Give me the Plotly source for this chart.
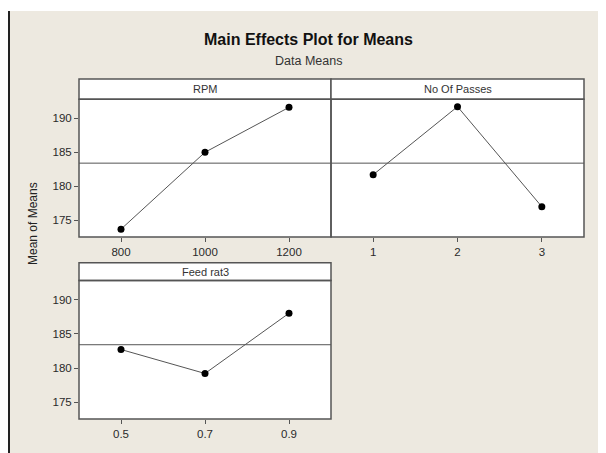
import plotly.graph_objects as go

# ---- data ----
rpm_levels = [800, 1000, 1200]
rpm_means = [173.7, 185.0, 191.6]
passes_levels = [1, 2, 3]
passes_means = [181.7, 191.7, 177.0]
feed_levels = [0.5, 0.7, 0.9]
feed_means = [182.7, 179.2, 188.0]
feed_ticklabels = ["0.5", "0.7", "0.9"]
factor_names = ["RPM", "No Of Passes", "Feed rat3"]
y_ticks = [175, 180, 185, 190]

all_means = rpm_means + passes_means + feed_means
grand_mean = sum(all_means) / len(all_means)

# page body has an 8px margin: figure origin sits at window (8, 8)
OFF = 8
W, H = 606 - OFF, 453 - OFF
BG = "#EDE9E0"
FRAME = "#555555"
FONT = "Liberation Sans, Arial, sans-serif"
TXT = "#333333"

def px_x(x):
    return (x - OFF) / W

def px_y(y):
    return 1 - (y - OFF) / H

# panel pixel geometry (data areas, window coordinates)
panels = {
    "A": dict(x0=79, x1=331, y0=99.3, y1=237, strip=79),
    "B": dict(x0=331, x1=584, y0=99.3, y1=237, strip=79),
    "C": dict(x0=79, x1=331, y0=280.5, y1=419, strip=262.7),
}

fig = go.Figure()

series = [
    ("A", "x", "y", rpm_levels, rpm_means),
    ("B", "x2", "y2", passes_levels, passes_means),
    ("C", "x3", "y3", feed_levels, feed_means),
]
for key, xa, ya, xs, ys in series:
    fig.add_trace(go.Scatter(
        x=xs, y=ys, xaxis=xa, yaxis=ya, mode="lines+markers",
        line=dict(color="#555555", width=1),
        marker=dict(color="black", size=7),
        showlegend=False, hoverinfo="skip",
    ))

yrange = [172.55, 192.78]
axis_common = dict(showgrid=False, zeroline=False, showline=False,
                   ticks="outside", ticklen=4,
                   tickcolor=FRAME, tickwidth=1,
                   tickfont=dict(family=FONT, size=11.5, color="#2a2a2a"))

layout = dict(
    width=W, height=H,
    margin=dict(l=0, r=0, t=0, b=0),
    paper_bgcolor=BG, plot_bgcolor="white",
    showlegend=False,
)

def dom(p):
    return [px_x(p["x0"]), px_x(p["x1"])], [px_y(p["y1"]), px_y(p["y0"])]

dA = dom(panels["A"]); dB = dom(panels["B"]); dC = dom(panels["C"])
layout["xaxis"] = dict(axis_common, domain=dA[0], anchor="y", range=[700, 1300],
                       tickvals=rpm_levels, ticktext=[str(v) for v in rpm_levels])
layout["yaxis"] = dict(axis_common, domain=dA[1], anchor="x", range=yrange, tickvals=y_ticks)
layout["xaxis2"] = dict(axis_common, domain=dB[0], anchor="y2", range=[0.5, 3.5],
                        tickvals=passes_levels, ticktext=[str(v) for v in passes_levels])
layout["yaxis2"] = dict(axis_common, domain=dB[1], anchor="x2", range=yrange,
                        ticks="", showticklabels=False)
layout["xaxis3"] = dict(axis_common, domain=dC[0], anchor="y3", range=[0.4, 1.0],
                        tickvals=feed_levels, ticktext=feed_ticklabels)
layout["yaxis3"] = dict(axis_common, domain=dC[1], anchor="x3", range=yrange, tickvals=y_ticks)

shapes = []
# white band at top (above beige) and dark left border
shapes.append(dict(type="rect", xref="paper", yref="paper", layer="below",
                   x0=0, x1=1, y0=px_y(11), y1=1,
                   fillcolor="white", line=dict(width=0)))
shapes.append(dict(type="line", xref="paper", yref="paper",
                   x0=px_x(9), x1=px_x(9), y0=0, y1=px_y(11),
                   line=dict(color="#222222", width=2)))
annotations = []
for key, name in zip(["A", "B", "C"], factor_names):
    p = panels[key]
    # strip
    shapes.append(dict(type="rect", xref="paper", yref="paper",
                       x0=px_x(p["x0"]), x1=px_x(p["x1"]),
                       y0=px_y(p["y0"]), y1=px_y(p["strip"]),
                       fillcolor="white", line=dict(color=FRAME, width=1.5)))
    # panel frame
    shapes.append(dict(type="rect", xref="paper", yref="paper",
                       x0=px_x(p["x0"]), x1=px_x(p["x1"]),
                       y0=px_y(p["y1"]), y1=px_y(p["y0"]),
                       line=dict(color=FRAME, width=1.5)))
    annotations.append(dict(xref="paper", yref="paper",
                            x=px_x((p["x0"] + p["x1"]) / 2),
                            y=px_y((p["y0"] + p["strip"]) / 2),
                            text=name, showarrow=False,
                            font=dict(family=FONT, size=11, color=TXT),
                            xanchor="center", yanchor="middle"))
# grand mean reference lines
for xa, ya in [("x", "y"), ("x2", "y2"), ("x3", "y3")]:
    shapes.append(dict(type="line", xref=f"{xa} domain", yref=ya, layer="below",
                       x0=0, x1=1, y0=grand_mean, y1=grand_mean,
                       line=dict(color="#555555", width=1)))

annotations.append(dict(xref="paper", yref="paper", x=px_x(308), y=px_y(39),
                        text="<b>Main Effects Plot for Means</b>", showarrow=False,
                        font=dict(family=FONT, size=16, color="#111111"),
                        xanchor="center", yanchor="middle"))
annotations.append(dict(xref="paper", yref="paper", x=px_x(308), y=px_y(61),
                        text="Data Means", showarrow=False,
                        font=dict(family=FONT, size=12.5, color=TXT),
                        xanchor="center", yanchor="middle"))
annotations.append(dict(xref="paper", yref="paper", x=px_x(33), y=px_y(224),
                        text="Mean of Means", showarrow=False, textangle=-90,
                        font=dict(family=FONT, size=12, color="#222222"),
                        xanchor="center", yanchor="middle"))

layout["shapes"] = shapes
layout["annotations"] = annotations
fig.update_layout(**layout)
fig.write_html("out.html")
